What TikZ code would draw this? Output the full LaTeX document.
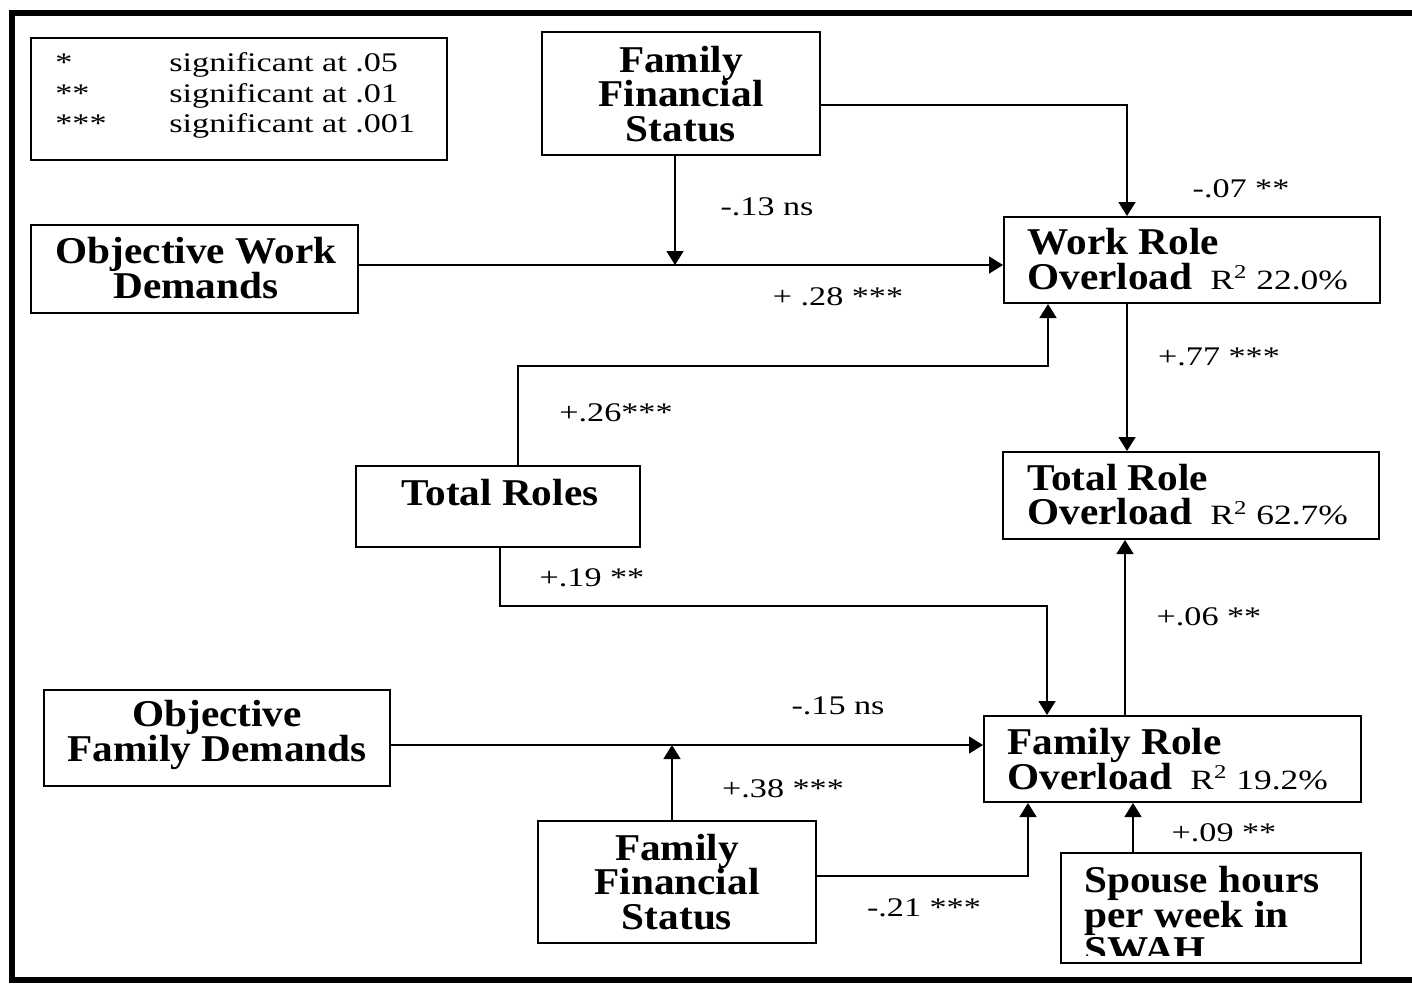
\documentclass[tikz,border=0pt]{standalone}
\usepackage{fontspec}
\setmainfont{Liberation Serif}
\newfontfamily\lblfont[FakeStretch=1.27]{Liberation Serif}
\newfontfamily\boldfam[FakeStretch=1.09]{Liberation Serif}
\usetikzlibrary{arrows.meta}
\begin{document}
\begin{tikzpicture}[x=0.5bp,y=-0.5bp,
  box/.style={draw, line width=1bp, inner sep=0pt, rectangle},
  bt/.style={font=\boldfam\fontsize{19}{17.5}\selectfont\bfseries, inner sep=0pt, align=center},
  btl/.style={bt, align=left, anchor=west},
  lbl/.style={font=\lblfont\fontsize{13.5}{16}\selectfont, inner sep=0pt},
  conn/.style={line width=0.8bp, -{Triangle[length=7bp,width=8.5bp]}},
  framel/.style={line width=2.6bp}]
\useasboundingbox (0,0) rectangle (1412,987);
% outer frame
\draw[framel] (1412,13) -- (12,13) -- (12,980) -- (1412,980);

% legend
\node[box, minimum width=208bp, minimum height=61bp] (legend) at (239,99) {};
\node[lbl, anchor=base west] (a1) at (55,71) {*};
\node[lbl, anchor=base west] (a2) at (55,102) {**};
\node[lbl, anchor=base west] (a3) at (55,132) {***};
\node[lbl, anchor=base west] (s1) at (169,71) {significant at .05};
\node[lbl, anchor=base west] (s2) at (169,102) {significant at .01};
\node[lbl, anchor=base west] (s3) at (169,132) {significant at .001};

% boxes
\node[box, minimum width=139bp, minimum height=61.5bp] (ffsT) at (681,93.5) {};
\node[box, minimum width=163.5bp, minimum height=44bp] (owd) at (194.5,269) {};
\node[box, minimum width=188bp, minimum height=43bp] (wro) at (1192,260) {};
\node[box, minimum width=188bp, minimum height=43.5bp] (tro) at (1191,495.5) {};
\node[box, minimum width=142bp, minimum height=40.5bp] (tr) at (498,506.5) {};
\node[box, minimum width=173bp, minimum height=48bp] (ofd) at (217,738) {};
\node[box, minimum width=188.5bp, minimum height=43bp] (fro) at (1172.5,759) {};
\node[box, minimum width=139bp, minimum height=61bp] (ffsB) at (677,882) {};
\node[box, minimum width=150bp, minimum height=55bp] (sp) at (1211,908) {};

% box texts
\node[bt] (tffsT) at (681,94) {Family\\Financial\\Status};
\node[bt] (towd) at (196,268) {Objective Work\\Demands};
\node[btl] (twro) at (1027,259) {Work Role\\Overload\hspace{9bp}{\lblfont\fontsize{14}{16}\selectfont\mdseries R\textsuperscript{2} 22.0\%}};
\node[btl] (ttro) at (1027,494.5) {Total Role\\Overload\hspace{9bp}{\lblfont\fontsize{14}{16}\selectfont\mdseries R\textsuperscript{2} 62.7\%}};
\node[bt] (ttr) at (500,493) {Total Roles};
\node[bt] (tofd) at (217,735) {Objective\\Family Demands};
\node[btl] (tfro) at (1007,759) {Family Role\\Overload\hspace{9bp}{\lblfont\fontsize{14}{16}\selectfont\mdseries R\textsuperscript{2} 19.2\%}};
\node[bt] (tffsB) at (677,882) {Family\\Financial\\Status};
\begin{scope}
\clip (1062,854) rectangle (1360,955);
\node[btl] (tsp) at (1084,915) {Spouse hours\\per week in\\SWAH};
\end{scope}

% connectors
\coordinate (m1) at (675,265);
\coordinate (m2) at (672,745);
\draw[conn] (ffsT.east |- 0,105) -| (wro.north -| 1127,0);
\draw[conn] (ffsT.south -| m1) -- (m1);
\draw[conn] (owd.east |- m1) -- (wro.west |- m1);
\draw[conn] (tr.north -| 518,0) |- (1048,366) -- (wro.south -| 1048,0);
\draw[conn] (wro.south -| 1127,0) -- (tro.north -| 1127,0);
\draw[conn] (tr.south -| 500,0) |- (1047,606) -- (fro.north -| 1047,0);
\draw[conn] (fro.north -| 1125,0) -- (tro.south -| 1125,0);
\draw[conn] (ofd.east |- m2) -- (fro.west |- m2);
\draw[conn] (ffsB.north -| m2) -- (m2);
\draw[conn] (ffsB.east |- 0,876) -| (fro.south -| 1028,0);
\draw[conn] (sp.north -| 1133,0) -- (fro.south -| 1133,0);

% labels
\node[lbl] (l1) at (767,207) {-.13 ns};
\node[lbl] (l2) at (1241,189) {-.07 **};
\node[lbl] (l3) at (838,297) {+ .28 ***};
\node[lbl] (l4) at (1219,357) {+.77 ***};
\node[lbl] (l5) at (616,413) {+.26***};
\node[lbl] (l6) at (592,578) {+.19 **};
\node[lbl] (l7) at (1209,617) {+.06 **};
\node[lbl] (l8) at (838,706) {-.15 ns};
\node[lbl] (l9) at (783,789) {+.38 ***};
\node[lbl] (l10) at (1224,833) {+.09 **};
\node[lbl] (l11) at (924,908) {-.21 ***};
\end{tikzpicture}
\end{document}
